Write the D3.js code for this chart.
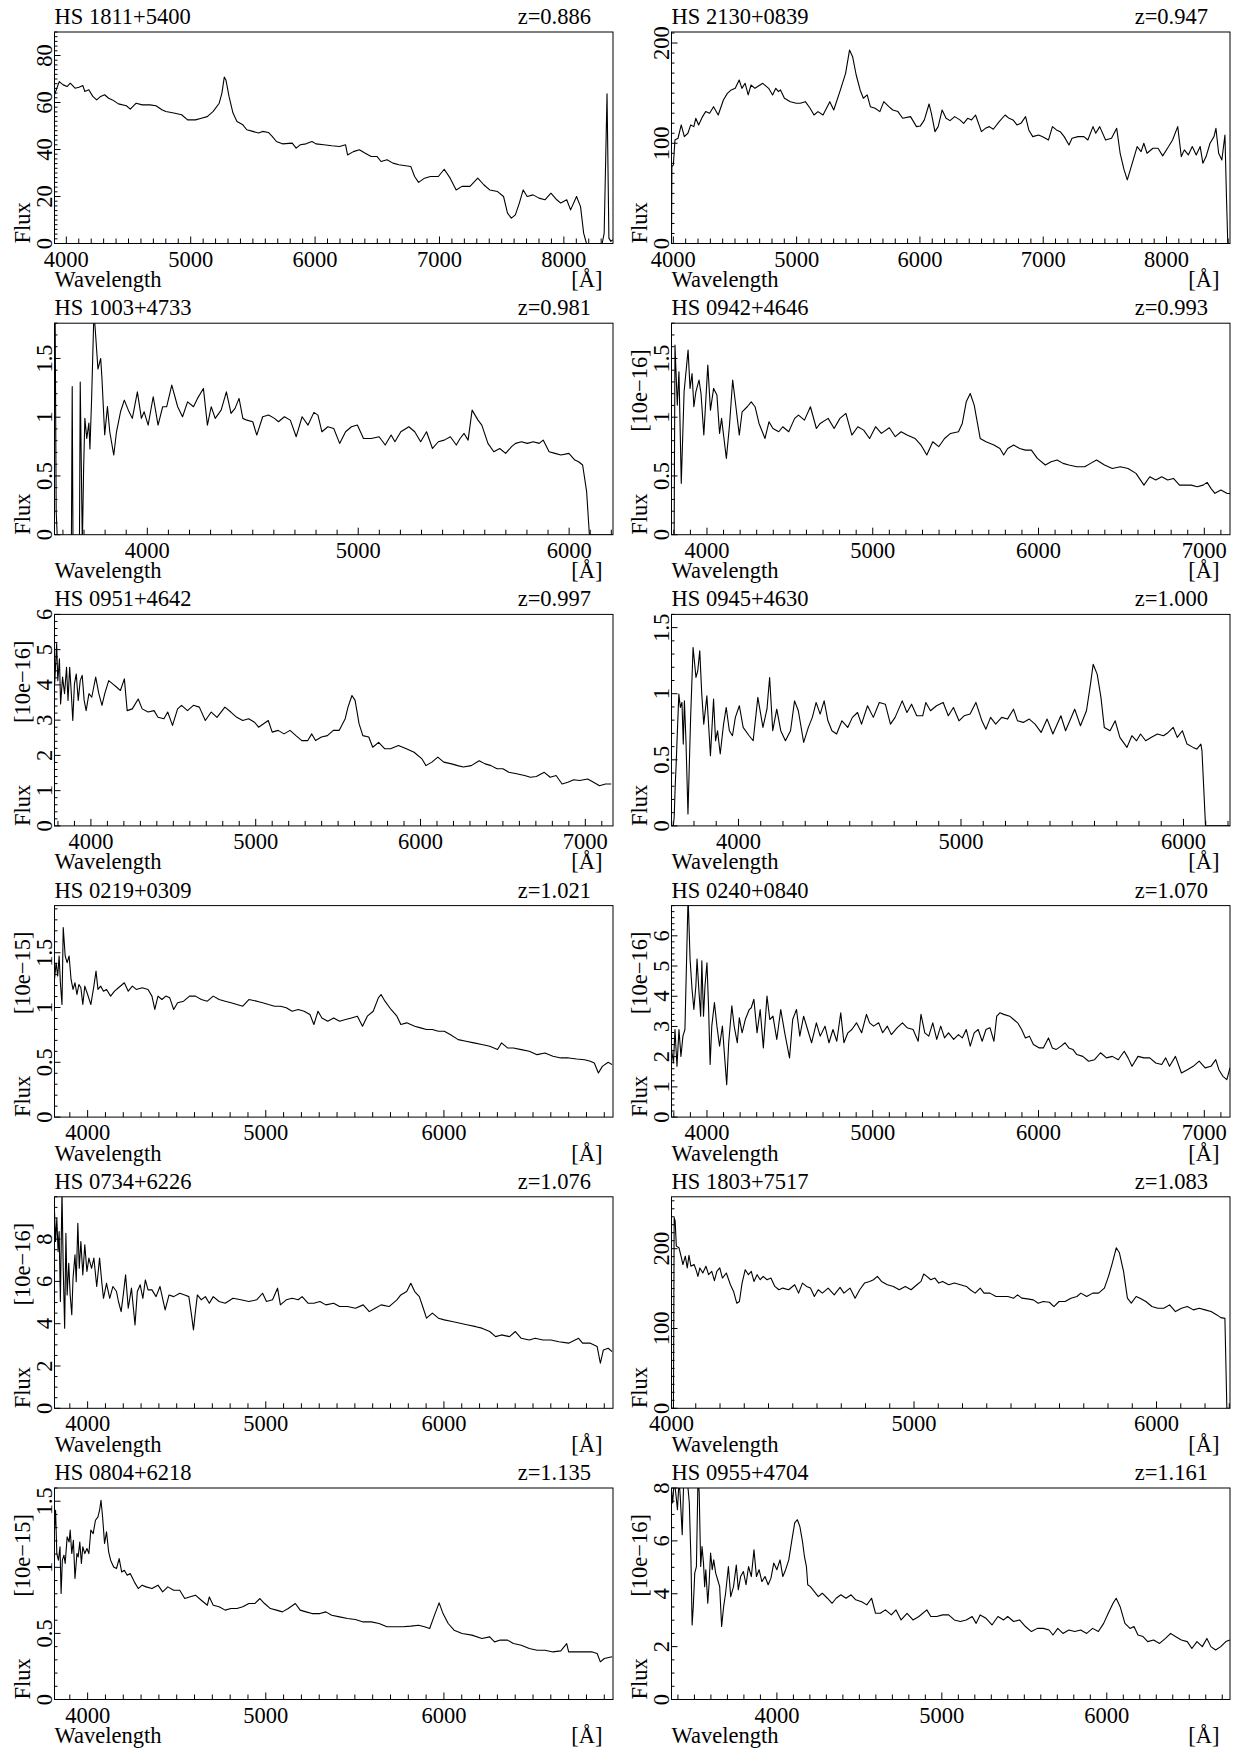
<!DOCTYPE html>
<html>
<head>
<meta charset="utf-8">
<script src="https://cdn.jsdelivr.net/npm/d3@7"></script>
<style>
  body { margin: 0; background: #fff; }
  text { font-family: "Liberation Serif", "Times New Roman", serif; font-size: 22.5px; fill: #000; }
</style>
</head>
<body>
<script>
// object names, redshifts and flux units per panel (reading order)
const names = ["HS 1811+5400", "HS 2130+0839", "HS 1003+4733", "HS 0942+4646",
  "HS 0951+4642", "HS 0945+4630", "HS 0219+0309", "HS 0240+0840",
  "HS 0734+6226", "HS 1803+7517", "HS 0804+6218", "HS 0955+4704"];
const redshifts = ["0.886", "0.947", "0.981", "0.993", "0.997", "1.000",
  "1.021", "1.070", "1.076", "1.083", "1.135", "1.161"];
const units = ["", "", "", "[10e−16]", "[10e−16]", "",
  "[10e−15]", "[10e−16]", "[10e−16]", "", "[10e−15]", "[10e−16]"];

// axis ranges and tick values
const xDomains = [[3905, 8395], [3985, 8515], [3560, 6208], [3786, 7155],
  [3779, 7168], [3699, 6209], [3814, 6949], [3786, 7155],
  [3814, 6949], [4000, 6303], [3814, 6949], [3361, 6747]];
const yDomains = [[0, 90], [0, 211], [0, 1.8], [0, 1.8], [0, 6], [0, 1.6],
  [0, 1.93], [0, 7], [0, 10], [0, 265], [0, 1.6], [0, 8]];
const xTicks = [[4000, 5000, 6000, 7000, 8000], [4000, 5000, 6000, 7000, 8000],
  [4000, 5000, 6000], [4000, 5000, 6000, 7000], [4000, 5000, 6000, 7000],
  [4000, 5000, 6000], [4000, 5000, 6000], [4000, 5000, 6000, 7000],
  [4000, 5000, 6000], [4000, 5000, 6000], [4000, 5000, 6000], [4000, 5000, 6000]];
const yTicks = [[0, 20, 40, 60, 80], [0, 100, 200], [0, 0.5, 1, 1.5], [0, 0.5, 1, 1.5],
  [0, 1, 2, 3, 4, 5, 6], [0, 0.5, 1, 1.5], [0, 0.5, 1, 1.5], [0, 1, 2, 3, 4, 5, 6],
  [0, 2, 4, 6, 8], [0, 100, 200], [0, 0.5, 1, 1.5], [0, 2, 4, 6, 8]];
const yMinorSteps = [2, 10, 0.1, 0.1, 0.2, 0.1, 0.1, 0.2, 0.5, 10, 0.1, 0.5];

// spectra: [wavelength, flux]
const spec1811 = [[3905,63.3],[3943,68.9],[3975,67.5],[4006,66.8],[4032,68.2],[4070,66.1],[4102,66.5],[4133,67.2],[4149,64.7],[4181,65.4],[4213,62.6],[4244,61.1],[4276,62.6],[4308,63.3],[4340,61.8],[4371,61.1],[4419,59.4],[4483,58.6],[4514,57.2],[4562,59.7],[4610,59.0],[4673,59.0],[4721,58.6],[4768,56.9],[4800,56.2],[4864,55.5],[4927,54.8],[4975,52.6],[5038,52.6],[5086,53.3],[5133,54.0],[5181,56.2],[5229,59.7],[5251,64.0],[5270,70.8],[5283,69.6],[5308,62.6],[5340,55.5],[5372,51.9],[5419,50.5],[5451,48.4],[5499,47.7],[5546,47.0],[5578,47.7],[5626,47.2],[5657,45.5],[5689,43.4],[5737,42.4],[5816,42.7],[5848,40.6],[5880,42.0],[5927,42.4],[5975,43.4],[6007,42.4],[6070,42.0],[6134,41.6],[6197,41.3],[6245,42.0],[6261,37.7],[6308,39.1],[6356,39.9],[6403,38.4],[6451,37.0],[6499,37.0],[6530,34.9],[6578,35.6],[6626,34.2],[6673,33.5],[6769,32.8],[6800,28.5],[6832,26.0],[6880,27.8],[6927,28.5],[6991,28.5],[7038,31.6],[7086,27.8],[7134,22.8],[7181,24.3],[7245,24.3],[7308,27.8],[7356,25.0],[7404,22.8],[7467,22.1],[7515,20.0],[7547,12.9],[7578,10.8],[7610,12.2],[7642,17.2],[7673,22.8],[7705,20.0],[7753,20.7],[7800,19.3],[7848,18.6],[7896,21.4],[7943,18.6],[7975,17.2],[8023,18.6],[8054,14.3],[8102,20.0],[8134,15.7],[8159,4.4],[8182,0],[8308,0],[8324,4.4],[8347,63.7],[8362,2.3],[8378,0.9],[8394,1.6]];

const spec2130 = [[3985,0],[3988,76.7],[4000,78.4],[4013,103.3],[4038,105],[4064,118.3],[4089,106.6],[4118,110],[4141,118.3],[4166,116.6],[4182,124.9],[4205,118.3],[4237,126.6],[4262,131.6],[4294,129.9],[4326,136.5],[4364,128.2],[4406,143.2],[4438,149.8],[4470,153.2],[4502,154.8],[4534,163.1],[4556,154.8],[4582,159.8],[4607,148.2],[4630,158.1],[4662,154.8],[4725,159.8],[4773,154.8],[4805,148.2],[4831,154.8],[4853,151.5],[4869,153.2],[4901,144.9],[4949,141.5],[4997,139.9],[5029,139.9],[5071,141.5],[5109,134.9],[5141,128.2],[5173,131.6],[5214,128.2],[5269,141.5],[5301,133.2],[5355,153.2],[5397,169.8],[5429,193],[5454,186.4],[5483,168.1],[5515,153.2],[5541,144.9],[5572,148.2],[5598,136.5],[5636,134.9],[5675,131.6],[5707,141.5],[5748,136.5],[5780,133.2],[5822,131.6],[5860,124.9],[5924,126.6],[5972,116.6],[6004,117.3],[6036,123.3],[6074,139.2],[6093,129.9],[6122,111.6],[6148,116.6],[6180,133.2],[6212,124.9],[6244,122.6],[6282,126.6],[6324,123.3],[6355,119.9],[6387,124.9],[6419,123.3],[6451,128.2],[6499,111.6],[6531,114.9],[6563,116.6],[6595,114],[6643,121.6],[6691,128.2],[6723,124.9],[6755,123.3],[6787,118.3],[6819,119.9],[6857,126.6],[6883,113.3],[6915,106.6],[6963,108.3],[6995,106.6],[7043,103.3],[7075,116.6],[7107,113.3],[7138,111.6],[7170,106.6],[7209,98.3],[7234,105],[7282,106.6],[7330,106.6],[7362,103.3],[7404,116.6],[7426,110],[7458,116.6],[7506,103.3],[7554,105],[7596,114.9],[7624,90],[7656,73.4],[7682,63.5],[7714,76.7],[7762,96.7],[7794,91.7],[7816,100],[7842,90],[7890,95],[7931,95],[7969,87.4],[8017,96.7],[8049,103.3],[8091,116.6],[8120,86.7],[8145,93.4],[8177,88.4],[8209,96.7],[8241,88.4],[8273,96.7],[8295,80.1],[8321,86.7],[8353,100],[8385,106.6],[8401,114.9],[8423,90],[8449,83.4],[8474,108.3],[8487,43.5],[8497,0],[8515,0]];

const spec1003 = [[3562,2.2],[3568,0.2],[3575,-0.1],[3640,-0.1],[3644,1.26],[3648,-0.2],[3678,-0.2],[3682,1.3],[3692,-0.1],[3698,0.56],[3704,0.99],[3713,0.82],[3723,0.95],[3728,0.73],[3736,1.16],[3747,1.9],[3755,1.7],[3766,1.41],[3779,1.5],[3785,1.33],[3798,0.85],[3811,1.09],[3822,0.876],[3841,0.678],[3854,0.876],[3873,1.046],[3891,1.145],[3910,1.06],[3929,0.99],[3953,1.216],[3972,0.99],[3985,1.046],[4004,0.933],[4028,1.174],[4051,0.933],[4073,1.089],[4092,1.089],[4116,1.273],[4144,1.089],[4167,1.004],[4191,1.131],[4219,1.089],[4238,1.16],[4266,1.245],[4285,0.933],[4303,1.089],[4322,0.99],[4350,1.06],[4375,1.216],[4397,1.032],[4416,1.075],[4435,1.16],[4453,0.99],[4472,0.975],[4500,0.961],[4519,0.848],[4547,1.004],[4575,1.018],[4603,0.99],[4622,0.961],[4650,1.004],[4678,0.975],[4706,0.834],[4734,1.004],[4762,0.933],[4790,1.041],[4809,1.018],[4828,0.876],[4856,0.919],[4884,0.904],[4912,0.777],[4940,0.876],[4968,0.919],[4996,0.933],[5025,0.819],[5062,0.819],[5099,0.834],[5128,0.763],[5156,0.848],[5174,0.791],[5202,0.876],[5240,0.919],[5268,0.876],[5296,0.791],[5324,0.876],[5352,0.734],[5380,0.791],[5408,0.805],[5437,0.834],[5465,0.763],[5483,0.819],[5502,0.862],[5521,0.805],[5540,1.06],[5568,0.975],[5586,0.933],[5615,0.777],[5643,0.706],[5671,0.734],[5699,0.692],[5727,0.749],[5746,0.777],[5774,0.791],[5802,0.777],[5830,0.791],[5858,0.777],[5877,0.805],[5905,0.706],[5933,0.692],[5961,0.678],[5999,0.692],[6027,0.635],[6045,0.621],[6064,0.593],[6083,0.366],[6096,0],[6208,0]];

const spec0942 = [[3800,0],[3802,0],[3807,1.613],[3821,1.103],[3831,1.386],[3845,0.437],[3862,1.216],[3886,1.571],[3898,1.245],[3910,1.372],[3921,1.089],[3933,1.216],[3952,1.316],[3964,1.202],[3981,0.848],[4005,1.443],[4021,1.06],[4040,1.245],[4060,1.188],[4076,0.862],[4088,0.99],[4117,0.649],[4136,0.933],[4155,1.316],[4171,1.131],[4195,0.848],[4212,1.046],[4243,1.089],[4267,1.131],[4290,1.089],[4314,0.947],[4350,0.819],[4374,0.961],[4398,0.904],[4433,0.876],[4457,0.919],[4493,0.876],[4529,0.99],[4552,1.018],[4588,0.975],[4624,1.089],[4660,0.904],[4683,0.947],[4731,0.99],[4767,0.904],[4802,0.99],[4838,1.032],[4874,0.848],[4910,0.919],[4945,0.89],[4981,0.819],[5017,0.919],[5052,0.862],[5100,0.91],[5136,0.834],[5171,0.876],[5207,0.848],[5255,0.819],[5291,0.763],[5326,0.678],[5362,0.791],[5398,0.749],[5433,0.819],[5469,0.862],[5517,0.876],[5540,0.947],[5564,1.131],[5588,1.202],[5612,1.103],[5648,0.819],[5683,0.791],[5731,0.763],[5767,0.734],[5790,0.678],[5814,0.734],[5850,0.763],[5886,0.734],[5921,0.72],[5957,0.72],[5993,0.649],[6041,0.593],[6076,0.621],[6112,0.635],[6148,0.607],[6183,0.593],[6231,0.578],[6279,0.578],[6314,0.607],[6350,0.635],[6398,0.593],[6445,0.564],[6493,0.578],[6540,0.564],[6588,0.522],[6636,0.422],[6671,0.493],[6707,0.465],[6743,0.493],[6779,0.465],[6814,0.479],[6850,0.422],[6886,0.422],[6921,0.422],[6957,0.408],[6993,0.422],[7017,0.445],[7040,0.394],[7064,0.352],[7100,0.38],[7136,0.352],[7155,0.35]];

const spec0951 = [[3780,4.03],[3792,5.17],[3799,4.12],[3809,4.74],[3816,3.46],[3828,4.22],[3840,3.75],[3852,4.5],[3861,3.56],[3871,4.5],[3880,3.84],[3890,2.99],[3900,4.03],[3911,4.31],[3923,3.56],[3935,4.12],[3947,4.27],[3959,3.56],[3971,3.27],[3988,3.75],[4005,3.65],[4029,4.22],[4048,3.75],[4067,3.42],[4084,3.75],[4108,4.12],[4132,4.03],[4155,3.94],[4179,3.84],[4203,4.17],[4220,3.27],[4251,3.32],[4287,3.6],[4311,3.32],[4347,3.23],[4383,3.27],[4407,3.08],[4443,3.04],[4466,3.23],[4495,2.85],[4526,3.32],[4550,3.42],[4586,3.27],[4622,3.42],[4658,3.37],[4694,2.99],[4730,3.23],[4765,3.08],[4813,3.37],[4849,3.23],[4885,3.08],[4921,2.99],[4957,3.04],[4993,2.94],[5017,2.8],[5048,2.9],[5076,2.99],[5100,2.66],[5136,2.71],[5172,2.61],[5208,2.71],[5244,2.56],[5280,2.42],[5316,2.42],[5340,2.61],[5363,2.42],[5399,2.52],[5435,2.56],[5471,2.71],[5507,2.71],[5543,3.04],[5560,3.37],[5584,3.7],[5603,3.56],[5627,2.9],[5650,2.56],[5686,2.52],[5710,2.23],[5746,2.37],[5782,2.19],[5818,2.19],[5866,2.28],[5914,2.19],[5961,2.09],[6009,1.9],[6033,1.71],[6069,1.81],[6105,1.95],[6141,1.81],[6189,1.76],[6225,1.71],[6260,1.67],[6308,1.71],[6356,1.85],[6392,1.76],[6428,1.71],[6464,1.62],[6500,1.62],[6536,1.52],[6583,1.48],[6631,1.43],[6667,1.38],[6703,1.4],[6751,1.52],[6787,1.38],[6823,1.43],[6859,1.19],[6894,1.24],[6930,1.31],[6966,1.29],[7014,1.33],[7050,1.24],[7086,1.14],[7122,1.19],[7157,1.19]];

const spec0945 = [[3700,0],[3707,0],[3711,0.065],[3716,0.317],[3720,0.468],[3725,0.695],[3732,0.997],[3739,0.896],[3746,0.934],[3752,0.619],[3757,0.946],[3764,0.644],[3773,0.091],[3785,0.821],[3796,1.349],[3809,1.123],[3817,1.173],[3826,1.324],[3835,0.997],[3844,0.77],[3858,0.984],[3874,0.531],[3888,0.959],[3897,0.644],[3906,0.72],[3918,0.544],[3933,0.77],[3945,0.896],[3959,0.72],[3973,0.682],[3986,0.821],[4004,0.909],[4021,0.745],[4048,0.682],[4066,0.644],[4087,0.972],[4110,0.745],[4128,0.883],[4140,1.123],[4154,0.72],[4172,0.883],[4190,0.72],[4211,0.644],[4234,0.72],[4252,0.946],[4269,0.871],[4293,0.632],[4314,0.745],[4332,0.821],[4349,0.934],[4367,0.846],[4385,0.946],[4402,0.795],[4420,0.72],[4441,0.695],[4465,0.795],[4491,0.745],[4512,0.821],[4535,0.858],[4553,0.77],[4580,0.909],[4606,0.821],[4633,0.934],[4660,0.921],[4683,0.77],[4704,0.821],[4736,0.946],[4757,0.858],[4778,0.921],[4801,0.833],[4828,0.833],[4842,0.934],[4863,0.871],[4890,0.909],[4920,0.934],[4943,0.833],[4966,0.896],[4991,0.795],[5014,0.833],[5041,0.846],[5067,0.934],[5094,0.795],[5112,0.732],[5133,0.821],[5156,0.77],[5183,0.821],[5209,0.808],[5236,0.883],[5254,0.795],[5280,0.783],[5307,0.808],[5333,0.77],[5360,0.707],[5387,0.808],[5413,0.695],[5449,0.833],[5470,0.72],[5511,0.883],[5537,0.758],[5564,0.871],[5582,1.072],[5594,1.223],[5612,1.148],[5629,0.972],[5644,0.745],[5670,0.72],[5693,0.795],[5714,0.67],[5746,0.594],[5768,0.682],[5789,0.644],[5807,0.695],[5830,0.644],[5856,0.67],[5883,0.695],[5910,0.682],[5931,0.707],[5954,0.745],[5972,0.67],[5995,0.72],[6016,0.619],[6043,0.594],[6060,0.581],[6078,0.619],[6083,0.569],[6099,0],[6210,0]];

const spec0219 = [[3814,1.256],[3823,1.409],[3832,1.287],[3840,1.47],[3847,1.226],[3856,1.027],[3863,1.729],[3874,1.47],[3885,1.409],[3896,1.47],[3907,1.256],[3918,1.165],[3929,1.226],[3940,1.119],[3951,1.21],[3962,1.18],[3973,1.027],[3984,1.195],[4000,1.119],[4018,1.027],[4035,1.195],[4047,1.332],[4058,1.165],[4073,1.195],[4089,1.149],[4106,1.165],[4129,1.104],[4151,1.149],[4173,1.18],[4206,1.226],[4228,1.149],[4251,1.195],[4273,1.165],[4306,1.18],[4339,1.165],[4361,1.104],[4377,0.982],[4395,1.104],[4417,1.073],[4439,1.104],[4461,1.088],[4483,0.982],[4505,1.043],[4539,1.058],[4572,1.104],[4605,1.104],[4638,1.073],[4672,1.058],[4705,1.104],[4738,1.073],[4772,1.058],[4805,1.043],[4838,1.027],[4871,1.012],[4905,1.073],[4949,1.058],[4982,1.043],[5015,1.027],[5049,1.012],[5082,1.012],[5115,0.997],[5148,0.966],[5182,0.982],[5215,0.966],[5248,0.936],[5270,0.845],[5293,0.966],[5315,0.905],[5348,0.875],[5381,0.905],[5414,0.875],[5448,0.89],[5481,0.905],[5514,0.921],[5543,0.829],[5570,0.921],[5603,0.966],[5632,1.088],[5647,1.119],[5669,1.058],[5703,0.982],[5736,0.921],[5758,0.845],[5791,0.86],[5836,0.829],[5869,0.814],[5902,0.799],[5935,0.799],[5969,0.784],[6002,0.784],[6035,0.753],[6080,0.707],[6124,0.692],[6168,0.677],[6213,0.662],[6257,0.646],[6301,0.616],[6323,0.677],[6357,0.631],[6390,0.631],[6434,0.616],[6479,0.601],[6523,0.57],[6567,0.585],[6612,0.555],[6656,0.54],[6700,0.54],[6745,0.53],[6789,0.524],[6822,0.509],[6844,0.494],[6867,0.402],[6889,0.463],[6922,0.5],[6944,0.479]];

const spec0240 = [[3786,2.24],[3798,1.79],[3807,2.9],[3819,1.68],[3831,2.9],[3843,2.01],[3855,2.68],[3867,2.9],[3879,5.67],[3886,7.3],[3898,5.23],[3910,4.23],[3921,3.56],[3933,4.34],[3940,5.23],[3952,4.12],[3962,3.34],[3969,5.17],[3979,3.34],[3988,4.34],[4000,5.11],[4010,3.56],[4019,1.74],[4029,3.01],[4045,3.79],[4060,3.01],[4076,2.35],[4093,3.01],[4107,1.96],[4119,1.07],[4131,2.46],[4150,3.68],[4164,3.01],[4183,2.46],[4195,3.29],[4212,2.79],[4231,3.23],[4255,3.56],[4267,3.62],[4283,3.9],[4302,2.79],[4321,3.56],[4340,2.29],[4362,4.01],[4379,3.23],[4398,3.34],[4421,2.57],[4445,3.56],[4469,2.79],[4498,1.96],[4517,3.23],[4540,3.56],[4560,2.68],[4583,3.34],[4607,2.9],[4631,2.46],[4660,3.12],[4683,2.68],[4712,3.01],[4736,2.46],[4760,2.9],[4783,2.51],[4807,3.45],[4826,2.46],[4850,2.79],[4874,2.9],[4902,3.12],[4933,2.79],[4962,3.4],[4981,3.12],[5005,3.01],[5036,3.12],[5060,2.79],[5088,3.01],[5112,2.73],[5148,2.96],[5179,3.12],[5207,2.96],[5243,2.9],[5274,2.51],[5291,3.4],[5314,2.79],[5338,2.68],[5362,3.12],[5386,2.57],[5410,3.01],[5433,2.62],[5457,2.79],[5488,2.57],[5517,2.73],[5540,2.62],[5564,2.9],[5588,2.35],[5612,2.79],[5636,2.9],[5660,2.51],[5683,2.9],[5707,2.96],[5731,2.51],[5748,3.34],[5767,3.45],[5790,3.4],[5826,3.34],[5850,3.23],[5874,3.12],[5898,2.9],[5921,2.62],[5945,2.68],[5969,2.4],[6005,2.29],[6029,2.29],[6060,2.62],[6083,2.29],[6107,2.24],[6136,2.35],[6160,2.46],[6183,2.29],[6207,2.24],[6231,2.07],[6267,2.01],[6302,1.85],[6338,1.9],[6374,2.13],[6410,1.96],[6445,2.01],[6481,1.9],[6517,2.18],[6540,1.96],[6564,1.68],[6600,2.01],[6636,1.96],[6671,1.96],[6707,1.79],[6743,1.74],[6767,1.96],[6790,1.68],[6826,2.01],[6862,1.46],[6898,1.57],[6933,1.68],[6969,1.85],[7005,1.63],[7040,1.68],[7069,1.9],[7088,1.57],[7112,1.35],[7136,1.24],[7155,1.63]];

const spec0734 = [[3814,9.31],[3820,7.89],[3827,8.99],[3834,7.41],[3840,8.36],[3847,5.05],[3856,10.3],[3863,6.62],[3871,3.79],[3878,8.28],[3885,5.36],[3894,6.86],[3902,5.36],[3911,4.42],[3918,6.15],[3929,7.26],[3936,5.99],[3945,8.75],[3953,6.62],[3962,7.89],[3973,6.31],[3984,7.73],[3996,6.47],[4007,7.1],[4022,6.62],[4035,7.1],[4051,5.76],[4067,7.1],[4080,5.91],[4089,5.2],[4106,5.91],[4124,5.2],[4142,5.76],[4162,5.52],[4173,5.05],[4188,4.57],[4200,5.36],[4213,6.31],[4228,4.73],[4246,5.68],[4266,3.94],[4279,5.52],[4295,5.84],[4310,5.2],[4324,6.07],[4339,5.6],[4361,5.6],[4384,5.28],[4406,5.76],[4435,4.65],[4457,5.36],[4483,5.28],[4517,5.44],[4545,5.36],[4568,5.28],[4583,4.42],[4594,3.71],[4605,4.57],[4616,5.36],[4638,5.13],[4661,5.28],[4683,4.97],[4705,5.28],[4738,5.05],[4772,4.97],[4816,5.2],[4860,5.13],[4905,5.05],[4949,5.13],[4982,5.44],[5004,5.05],[5038,5.13],[5066,5.68],[5082,4.89],[5115,5.13],[5148,5.2],[5182,5.13],[5204,5.28],[5237,4.97],[5270,4.97],[5304,5.05],[5337,4.89],[5381,4.97],[5414,4.81],[5459,4.81],[5503,4.73],[5547,4.89],[5581,4.57],[5614,4.73],[5647,4.89],[5692,4.81],[5736,5.13],[5758,5.36],[5791,5.52],[5814,5.91],[5836,5.52],[5862,5.28],[5884,4.73],[5902,4.26],[5935,4.5],[5969,4.26],[6002,4.18],[6046,4.1],[6091,4.02],[6135,3.94],[6179,3.86],[6213,3.79],[6257,3.63],[6290,3.39],[6323,3.47],[6368,3.39],[6401,3.63],[6434,3.31],[6479,3.23],[6512,3.31],[6556,3.23],[6601,3.23],[6645,3.15],[6700,3.08],[6756,3.31],[6778,3.08],[6822,3.08],[6860,2.92],[6878,2.13],[6895,2.76],[6922,2.84],[6944,2.68]];

const spec1803 = [[4003,0],[4008,0],[4011,239],[4015,234.7],[4020,203.2],[4031,201.1],[4041,188.5],[4047,180.1],[4057,190.6],[4065,175.9],[4072,191.8],[4080,178],[4093,180.1],[4101,173.7],[4109,165.3],[4117,175.9],[4129,169.5],[4142,178],[4153,167.4],[4166,171.6],[4177,159.9],[4187,171.6],[4199,175.9],[4210,163.2],[4226,169.5],[4243,154.8],[4256,146.4],[4269,131.7],[4280,133.8],[4291,156.9],[4304,173.7],[4317,167.4],[4329,171.6],[4340,159],[4353,167.4],[4366,161.1],[4378,165.3],[4394,161.1],[4410,163.2],[4426,152.7],[4443,148.5],[4459,150.6],[4483,148.5],[4508,154.8],[4524,144.3],[4540,156.9],[4557,152.7],[4573,150.6],[4589,140.1],[4605,148.5],[4622,144.3],[4646,150.6],[4671,142.2],[4695,151.5],[4711,144.3],[4736,150.6],[4757,138],[4776,148.5],[4796,156.9],[4817,159],[4833,161.1],[4849,165.3],[4866,159],[4890,154.8],[4915,152.7],[4939,148.5],[4964,152.7],[4988,148.5],[5012,154.8],[5029,159],[5040,168.3],[5053,165.3],[5069,161.1],[5086,163.2],[5102,156.9],[5118,159],[5143,154.8],[5167,156.9],[5191,154.8],[5216,152.7],[5232,148.5],[5252,144.3],[5273,150.6],[5289,144.3],[5313,144.3],[5338,140.1],[5362,140.1],[5387,140.1],[5411,138],[5427,142.2],[5444,138],[5468,137.1],[5492,135.9],[5512,131.7],[5533,133.8],[5558,132.9],[5577,127.5],[5598,133.8],[5623,133.8],[5647,138],[5672,140.1],[5688,144.3],[5712,140.1],[5737,144.3],[5761,144.3],[5785,150.6],[5802,165.3],[5818,182.2],[5834,201.1],[5847,194.8],[5864,171.6],[5880,138],[5896,131.7],[5916,140.1],[5932,138],[5956,133.8],[5981,127.5],[6005,125.4],[6030,125.4],[6054,129.6],[6078,121.2],[6103,125.4],[6127,127.5],[6152,123.3],[6176,125.4],[6200,123.3],[6225,121.2],[6249,117],[6265,113.6],[6282,112.7],[6290,0],[6303,0]];

const spec0804 = [[3814,1.281],[3820,1.432],[3827,1.104],[3836,1.054],[3845,1.155],[3851,0.802],[3858,1.054],[3867,1.092],[3874,1.029],[3885,1.23],[3896,1.192],[3902,1.281],[3911,1.104],[3920,1.205],[3929,0.915],[3940,1.104],[3947,1.079],[3956,1.192],[3965,1.029],[3973,1.155],[3984,1.104],[3996,1.142],[4007,1.104],[4018,1.281],[4031,1.255],[4044,1.356],[4058,1.381],[4067,1.432],[4075,1.507],[4084,1.381],[4095,1.18],[4106,1.268],[4118,1.117],[4129,1.054],[4146,1.003],[4162,0.991],[4177,1.066],[4191,0.965],[4206,0.978],[4222,0.94],[4239,0.953],[4262,0.89],[4284,0.839],[4306,0.865],[4328,0.852],[4361,0.839],[4395,0.865],[4421,0.814],[4450,0.852],[4483,0.827],[4517,0.827],[4545,0.764],[4572,0.776],[4605,0.789],[4638,0.751],[4672,0.713],[4683,0.776],[4705,0.713],[4738,0.701],[4772,0.676],[4805,0.688],[4838,0.688],[4871,0.701],[4905,0.726],[4938,0.726],[4967,0.764],[4993,0.726],[5026,0.688],[5060,0.676],[5093,0.663],[5126,0.688],[5166,0.726],[5193,0.676],[5226,0.663],[5260,0.65],[5304,0.65],[5337,0.663],[5370,0.638],[5414,0.625],[5459,0.613],[5503,0.605],[5547,0.587],[5592,0.587],[5636,0.575],[5680,0.55],[5725,0.55],[5769,0.55],[5814,0.555],[5858,0.562],[5891,0.55],[5920,0.537],[5947,0.638],[5973,0.731],[5995,0.65],[6024,0.575],[6057,0.524],[6102,0.499],[6157,0.487],[6213,0.461],[6257,0.474],[6284,0.436],[6313,0.449],[6357,0.449],[6390,0.423],[6434,0.411],[6479,0.386],[6523,0.373],[6567,0.373],[6612,0.36],[6656,0.368],[6689,0.423],[6700,0.36],[6745,0.36],[6789,0.36],[6833,0.36],[6860,0.348],[6878,0.285],[6900,0.31],[6944,0.323]];

const spec0955 = [[3361,7.94],[3368,7.43],[3378,8.3],[3390,7.62],[3397,7.18],[3407,8.3],[3414,7.69],[3426,6.23],[3435,8.3],[3445,8.3],[3455,8.3],[3462,7.94],[3469,7.43],[3479,5.28],[3486,2.82],[3493,3.51],[3502,4.78],[3512,5.03],[3522,8.5],[3529,7.81],[3538,5.03],[3546,5.79],[3555,5.16],[3562,4.27],[3569,4.91],[3581,3.64],[3589,4.4],[3598,5.54],[3608,4.91],[3617,5.28],[3629,4.78],[3641,4.53],[3653,4.27],[3665,2.76],[3677,3.51],[3689,4.02],[3706,5.03],[3720,3.89],[3737,4.27],[3754,5.09],[3766,4.15],[3780,4.65],[3797,4.84],[3813,4.34],[3828,5.03],[3845,4.65],[3861,5.66],[3876,4.65],[3892,4.91],[3909,4.46],[3928,4.65],[3947,4.34],[3964,4.59],[3981,5.16],[4000,4.91],[4019,5.28],[4036,4.65],[4053,4.91],[4072,5.28],[4091,6.04],[4108,6.68],[4124,6.8],[4139,6.55],[4155,5.98],[4167,5.41],[4179,5.03],[4187,4.34],[4203,4.27],[4227,4.08],[4251,3.89],[4275,4.02],[4306,3.83],[4335,3.64],[4359,3.83],[4388,3.96],[4419,3.83],[4450,3.96],[4478,3.77],[4514,3.7],[4545,3.58],[4574,3.83],[4598,3.26],[4627,3.26],[4658,3.39],[4694,3.2],[4722,3.39],[4753,3.01],[4789,3.26],[4825,3.01],[4861,3.14],[4909,3.39],[4933,3.14],[4969,3.14],[5005,3.2],[5041,3.2],[5076,3.01],[5112,2.95],[5148,3.01],[5184,3.14],[5208,2.88],[5232,3.2],[5268,3.07],[5304,2.82],[5340,3.14],[5375,3.01],[5399,3.14],[5435,2.95],[5471,3.01],[5507,2.76],[5543,2.57],[5579,2.69],[5615,2.69],[5650,2.63],[5674,2.44],[5703,2.69],[5734,2.5],[5770,2.63],[5806,2.57],[5842,2.63],[5878,2.5],[5914,2.69],[5949,2.57],[5981,2.88],[6009,3.26],[6038,3.64],[6057,3.83],[6081,3.51],[6110,2.88],[6141,2.69],[6165,2.76],[6189,2.44],[6220,2.38],[6248,2.19],[6284,2.25],[6320,2.12],[6356,2.31],[6387,2.5],[6416,2.38],[6452,2.25],[6488,2.19],[6516,1.93],[6547,2.19],[6579,2.0],[6607,2.31],[6631,2.0],[6660,1.87],[6691,2.0],[6722,2.19],[6746,2.25]];

const spectra = [spec1811, spec2130, spec1003, spec0942, spec0951, spec0945,
  spec0219, spec0240, spec0734, spec1803, spec0804, spec0955];

// page layout
const W = 1233, H = 1754;
const colLeft = [54.5, 671.5], plotW = 558.5, plotH = 211.5, rowTop0 = 32, rowStep = 291.2;

const svg = d3.select("body").append("svg")
    .attr("width", W)
    .attr("height", H);

svg.append("rect").attr("width", W).attr("height", H).attr("fill", "#fff");

spectra.forEach(function (data, i) {
    const left = colLeft[i % 2],
        top = rowTop0 + Math.floor(i / 2) * rowStep;

    const g = svg.append("g")
        .attr("transform", `translate(${left},${top})`);

    // scales
    const x = d3.scaleLinear().domain(xDomains[i]).range([0, plotW]),
        y = d3.scaleLinear().domain(yDomains[i]).range([plotH, 0]);

    // clip for the spectrum
    g.append("clipPath").attr("id", "clip" + i)
        .append("rect").attr("width", plotW).attr("height", plotH);

    // minor + major ticks on the bottom axis (inward)
    const xMinor = d3.range(Math.ceil(xDomains[i][0] / 100) * 100, xDomains[i][1], 100);
    g.selectAll(".xt").data(xMinor).join("line")
        .attr("x1", d => x(d)).attr("x2", d => x(d))
        .attr("y1", plotH).attr("y2", d => plotH - (d % 1000 === 0 ? 7 : 5))
        .attr("stroke", "#000").attr("stroke-width", 1);

    // ticks on the left axis (inward)
    const step = yMinorSteps[i];
    const yMinor = d3.range(0, Math.round(yDomains[i][1] / step) + 1).map(k => +(k * step).toFixed(3))
        .filter(v => v <= yDomains[i][1]);
    g.selectAll(".yt").data(yMinor).join("line")
        .attr("x1", 0)
        .attr("x2", d => yTicks[i].some(t => Math.abs(t - d) < 1e-6) ? 6 : 3)
        .attr("y1", d => y(d)).attr("y2", d => y(d))
        .attr("stroke", "#000").attr("stroke-width", 1);

    // spectrum
    const line = d3.line().x(d => x(d[0])).y(d => y(d[1]));
    g.append("path")
        .datum(data)
        .attr("clip-path", `url(#clip${i})`)
        .attr("d", line)
        .attr("fill", "none")
        .attr("stroke", "#000")
        .attr("stroke-width", 1.1)
        .attr("stroke-linejoin", "round");

    // frame
    g.append("rect")
        .attr("width", plotW).attr("height", plotH)
        .attr("fill", "none").attr("stroke", "#000").attr("stroke-width", 1);

    // x tick labels
    g.selectAll(".xl").data(xTicks[i]).join("text")
        .attr("x", d => x(d)).attr("y", plotH + 23)
        .attr("text-anchor", "middle")
        .text(d => d);

    // y tick labels, rotated
    g.selectAll(".yl").data(yTicks[i]).join("text")
        .attr("transform", d => `translate(-3,${y(d)}) rotate(-90)`)
        .attr("text-anchor", "middle")
        .text(d => String(d));

    // titles
    g.append("text").attr("x", 0).attr("y", -8).text(names[i]);
    g.append("text").attr("x", plotW - 22).attr("y", -8)
        .attr("text-anchor", "end").text("z=" + redshifts[i]);

    // axis labels
    g.append("text").attr("x", 0).attr("y", plotH + 43.5).text("Wavelength");
    g.append("text").attr("x", plotW - 10.5).attr("y", plotH + 43.5)
        .attr("text-anchor", "end").text("[Å]");
    g.append("text")
        .attr("transform", `translate(-25,${plotH}) rotate(-90)`)
        .text("Flux");
    if (units[i]) {
        g.append("text")
            .attr("transform", `translate(-25,26) rotate(-90)`)
            .attr("text-anchor", "end")
            .text(units[i]);
    }
});
</script>
</body>
</html>
